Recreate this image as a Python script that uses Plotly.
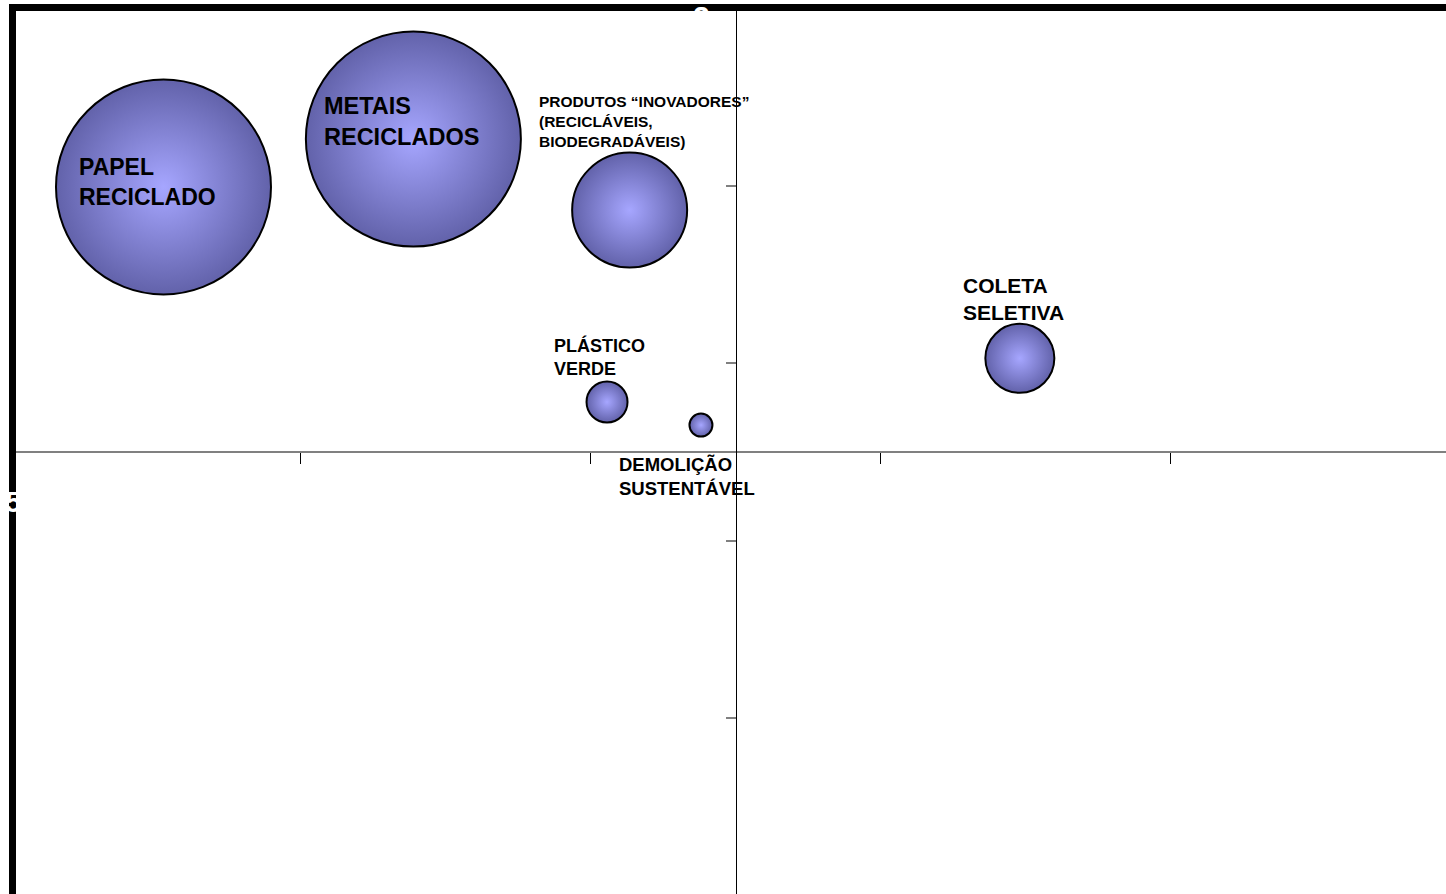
import plotly.graph_objects as go

# ---- data ----
labels = [
    "PAPEL<br>RECICLADO",
    "METAIS<br>RECICLADOS",
    "PRODUTOS “INOVADORES”<br>(RECICLÁVEIS,<br>BIODEGRADÁVEIS)",
    "PLÁSTICO<br>VERDE",
    "DEMOLIÇÃO<br>SUSTENTÁVEL",
    "COLETA<br>SELETIVA",
]
x_vals = [0.526, 1.388, 2.134, 2.056, 2.380, 3.480]
y_vals = [3.992, 4.262, 3.862, 2.781, 2.651, 3.027]
bubble_size = [215, 215, 115, 41, 23, 69]

x_ticks = [1, 2, 3, 4]
y_ticks = [1, 2, 3, 4]
x_cross = 2.5
y_cross = 2.5

# ---- layout / style ----
W, H = 1446, 894
ML, MT = 11, 8
XR = [0, 4.95]
YR = [0.01, 5.0]

label_font = [23, 23.5, 15.5, 18, 18.5, 21]
label_shift = [(-86, 5), (-91, 18), (-93, 89), (-55, 45), (-84, -51), (-59, 59)]


def px2paper(px, py):
    return (px - ML) / (W - ML), (H - py) / (H - MT)


fig = go.Figure()
fig.add_trace(go.Scatter(
    x=x_vals, y=y_vals, mode="markers",
    marker=dict(
        size=bubble_size, sizemode="diameter", sizeref=1,
        color="#6262aa",
        gradient=dict(type="radial", color="#a6a6ff"),
        line=dict(color="black", width=2),
        opacity=1,
    ),
    hoverinfo="skip",
    showlegend=False,
))

annotations = []
for i, t in enumerate(labels):
    dx, dy = label_shift[i]
    annotations.append(dict(
        x=x_vals[i], y=y_vals[i], xref="x", yref="y",
        text=f"<b>{t}</b>", showarrow=False,
        xanchor="left", yanchor="middle", align="left",
        xshift=dx, yshift=dy,
        font=dict(family="Liberation Sans, Arial", size=label_font[i], color="black"),
    ))

# white tick-label remnants over the black frame
fx, fy = px2paper(13, 502)
annotations.append(dict(x=fx, y=fy, xref="paper", yref="paper", text="<b>5</b>",
                        showarrow=False, xanchor="center", yanchor="middle",
                        font=dict(family="Liberation Sans, Arial", size=30, color="white")))
fx, fy = px2paper(701, 17)
annotations.append(dict(x=fx, y=fy, xref="paper", yref="paper", text="<b>2</b>",
                        showarrow=False, xanchor="center", yanchor="middle",
                        font=dict(family="Liberation Sans, Arial", size=30, color="white")))

# thick black frame (left and top)
x0, y0 = px2paper(12.5, H + 5)
x1, y1 = px2paper(12.5, 7.5)
x2, y2 = px2paper(W + 10, 7.5)
shapes = [dict(type="path", xref="paper", yref="paper",
               path=f"M {x0},{y0} L {x1},{y1} L {x2},{y2}",
               line=dict(color="black", width=7), layer="above")]

xpos = (y_cross - YR[0]) / (YR[1] - YR[0])
ypos = (x_cross - XR[0]) / (XR[1] - XR[0])

fig.update_layout(
    width=W, height=H,
    margin=dict(l=ML, r=0, t=MT, b=0, pad=0),
    paper_bgcolor="white", plot_bgcolor="white",
    xaxis=dict(range=XR, anchor="free", position=xpos, showgrid=False, zeroline=False,
               showline=True, linecolor="#808080", linewidth=2,
               ticks="outside", tickvals=x_ticks, ticklen=11, tickwidth=1, tickcolor="black",
               showticklabels=False, fixedrange=True),
    yaxis=dict(range=YR, anchor="free", position=ypos, showgrid=False, zeroline=False,
               showline=True, linecolor="black", linewidth=1,
               ticks="outside", tickvals=y_ticks, ticklen=10, tickwidth=2, tickcolor="#808080",
               showticklabels=False, fixedrange=True),
    annotations=annotations,
    shapes=shapes,
)

fig.write_html("out.html")
